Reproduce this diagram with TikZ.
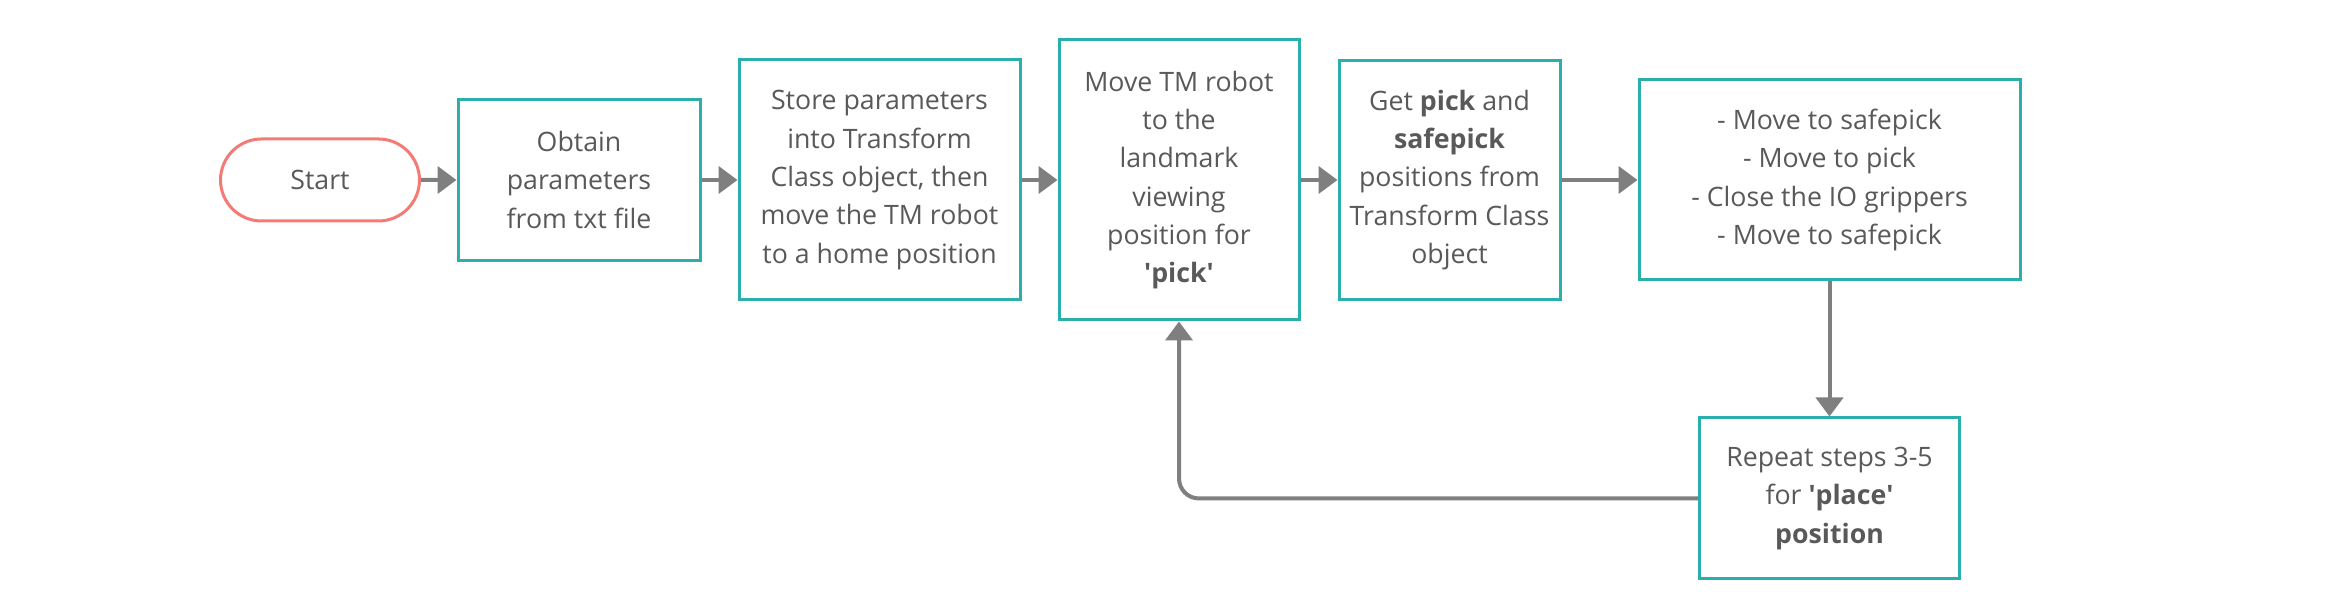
\documentclass[tikz,border=0pt]{standalone}
\usepackage{fontspec}
\setmainfont{Open Sans}
\usepackage{xcolor}
\usepackage{pgf, tikz}
\usetikzlibrary{shapes.misc, arrows.meta}

\definecolor{boxteal}{HTML}{2AAFAC}
\definecolor{startred}{HTML}{F47A76}
\definecolor{linegray}{HTML}{7F7F7F}
\definecolor{textgray}{HTML}{595959}

\begin{document}
\begin{tikzpicture}[
    stepbox/.style={draw=boxteal, line width=0.03cm, fill=white, inner sep=0pt,
        align=center, text=textgray, font=\fontsize{7.6}{10.9}\selectfont},
    startbox/.style={draw=startred, line width=0.03cm, rounded rectangle, inner sep=0pt,
        minimum width=1.99cm, minimum height=0.82cm, text=textgray,
        font=\fontsize{7.6}{10.9}\selectfont},
    flow/.style={draw=linegray, line width=0.04cm,
        -{Triangle[length=0.19cm, width=0.27cm]}}
]
    \useasboundingbox (0,0) rectangle (23.41,6.10);

    \node[startbox] (Start) at (3.20,4.30) {Start};
    \node[stepbox, minimum width=2.42cm, minimum height=1.61cm] (Obtain) at (5.79,4.30)
        {Obtain\\parameters\\from txt file};
    \node[stepbox, minimum width=2.81cm, minimum height=2.40cm] (Store) at (8.795,4.30)
        {Store parameters\\into Transform\\Class object, then\\move the TM robot\\to a home position};
    \node[stepbox, minimum width=2.40cm, minimum height=2.80cm] (MoveTM) at (11.79,4.30)
        {Move TM robot\\to the\\landmark\\viewing\\position for\\\textbf{\textquotesingle pick\textquotesingle}};
    \node[stepbox, minimum width=2.21cm, minimum height=2.39cm] (GetPick) at (14.495,4.30)
        {Get \textbf{pick} and\\\textbf{safepick}\\positions from\\Transform Class\\object};
    \node[stepbox, minimum width=3.81cm, minimum height=2.00cm] (Grip) at (18.295,4.30)
        {- Move to safepick\\- Move to pick\\- Close the IO grippers\\- Move to safepick};
    \node[stepbox, minimum width=2.60cm, minimum height=1.61cm] (Repeat) at (18.295,1.115)
        {Repeat steps 3-5\\for \textbf{\textquotesingle place\textquotesingle}\\\textbf{position}};

    \draw[flow] (Start) -- (Obtain);
    \draw[flow] (Obtain) -- (Store);
    \draw[flow] (Store) -- (MoveTM);
    \draw[flow] (MoveTM) -- (GetPick);
    \draw[flow] (GetPick) -- (Grip);
    \draw[flow] (Grip) -- (Repeat);
    \draw[flow, rounded corners=0.2cm] (Repeat.west) -| (MoveTM.south);
\end{tikzpicture}
\end{document}
